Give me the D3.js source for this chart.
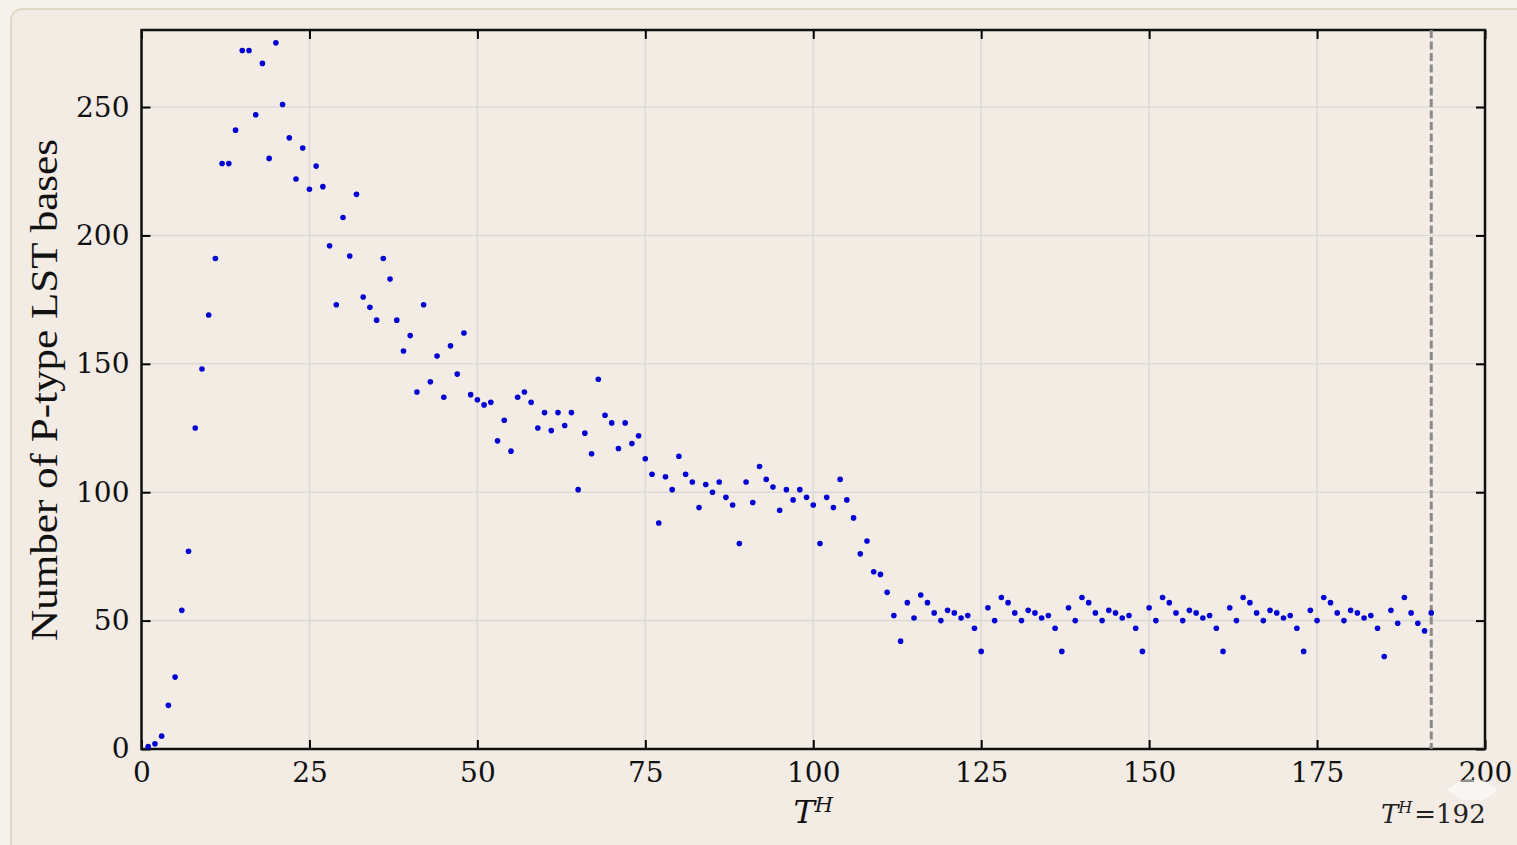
<!DOCTYPE html>
<html>
<head>
<meta charset="utf-8">
<script src="https://cdn.jsdelivr.net/npm/d3@7"></script>
<style>
	body { margin: 0; background: #f5f1eb; }
	svg { display: block; }
</style>
</head>
<body>
<div id="chart"></div>
<script>
// P-type LST bases per T^H (T^H = 1 .. 192)
var thStart = 1;
var baseCounts = [
	1, 2, 5, 17, 28, 54, 77, 125, 148, 169,
	191, 228, 228, 241, 272, 272, 247, 267, 230, 275,
	251, 238, 222, 234, 218, 227, 219, 196, 173, 207,
	192, 216, 176, 172, 167, 191, 183, 167, 155, 161,
	139, 173, 143, 153, 137, 157, 146, 162, 138, 136,
	134, 135, 120, 128, 116, 137, 139, 135, 125, 131,
	124, 131, 126, 131, 101, 123, 115, 144, 130, 127,
	117, 127, 119, 122, 113, 107, 88, 106, 101, 114,
	107, 104, 94, 103, 100, 104, 98, 95, 80, 104,
	96, 110, 105, 102, 93, 101, 97, 101, 98, 95,
	80, 98, 94, 105, 97, 90, 76, 81, 69, 68,
	61, 52, 42, 57, 51, 60, 57, 53, 50, 54,
	53, 51, 52, 47, 38, 55, 50, 59, 57, 53,
	50, 54, 53, 51, 52, 47, 38, 55, 50, 59,
	57, 53, 50, 54, 53, 51, 52, 47, 38, 55,
	50, 59, 57, 53, 50, 54, 53, 51, 52, 47,
	38, 55, 50, 59, 57, 53, 50, 54, 53, 51,
	52, 47, 38, 54, 50, 59, 57, 53, 50, 54,
	53, 51, 52, 47, 36, 54, 49, 59, 53, 49,
	46, 53
];
var xTicks = [0, 25, 50, 75, 100, 125, 150, 175, 200];
var yTicks = [0, 50, 100, 150, 200, 250];
var markerT = 192;

var width = 1517, height = 845;
var plot = {left: 141.5, right: 1485, top: 30, bottom: 749};

var x = d3.scaleLinear().domain([0, 200]).range([plot.left, plot.right]);
var y = d3.scaleLinear().domain([0, 280]).range([plot.bottom, plot.top]);

var svg = d3.select("#chart").append("svg")
	.attr("width", width)
	.attr("height", height);

// card behind the figure
svg.append("rect")
	.attr("x", 11).attr("y", 9)
	.attr("width", width + 20).attr("height", height + 20)
	.attr("rx", 11)
	.attr("fill", "#f2ece5")
	.attr("stroke", "#e2d9c5")
	.attr("stroke-width", 2);

// grid
var grid = svg.append("g").attr("class", "grid");
grid.selectAll("line.gx")
	.data(xTicks.slice(1, -1))
	.enter().append("line")
		.attr("x1", d => x(d)).attr("x2", d => x(d))
		.attr("y1", plot.top).attr("y2", plot.bottom)
		.attr("stroke", "#dcdad5").attr("stroke-width", 1.6);
grid.selectAll("line.gy")
	.data(yTicks.slice(1))
	.enter().append("line")
		.attr("x1", plot.left).attr("x2", plot.right)
		.attr("y1", d => y(d)).attr("y2", d => y(d))
		.attr("stroke", "#dcdad5").attr("stroke-width", 1.6);

// axes, ticks pointing inwards on all four sides
function styleAxis(g){
	g.select(".domain").remove();
	g.selectAll(".tick line").attr("stroke", "#000").attr("stroke-width", 2);
	g.selectAll(".tick text")
		.attr("fill", "#111")
		.style("font-family", "'DejaVu Serif', serif")
		.style("font-size", "28px");
}
svg.append("g")
	.attr("transform", "translate(0," + plot.bottom + ")")
	.call(d3.axisBottom(x).tickValues(xTicks).tickFormat(d3.format("d")).tickSize(-9).tickPadding(13))
	.call(styleAxis);
svg.append("g")
	.attr("transform", "translate(0," + plot.top + ")")
	.call(d3.axisTop(x).tickValues(xTicks).tickFormat("").tickSize(-9))
	.call(styleAxis);
svg.append("g")
	.attr("transform", "translate(" + plot.left + ",0)")
	.call(d3.axisLeft(y).tickValues(yTicks).tickFormat(d3.format("d")).tickSize(-9).tickPadding(12))
	.call(styleAxis);
svg.append("g")
	.attr("transform", "translate(" + plot.right + ",0)")
	.call(d3.axisRight(y).tickValues(yTicks).tickFormat("").tickSize(-9))
	.call(styleAxis);

// frame
svg.append("rect")
	.attr("x", plot.left).attr("y", plot.top)
	.attr("width", plot.right - plot.left)
	.attr("height", plot.bottom - plot.top)
	.attr("fill", "none")
	.attr("stroke", "#111")
	.attr("stroke-width", 2.5);

// T^H = 192 marker
svg.append("line")
	.attr("x1", x(markerT)).attr("x2", x(markerT))
	.attr("y1", plot.top).attr("y2", plot.bottom)
	.attr("stroke", "#8a8a8a")
	.attr("stroke-width", 3)
	.attr("stroke-dasharray", "8,3.5");

// points
svg.append("g").selectAll("circle")
	.data(baseCounts)
	.enter().append("circle")
		.attr("cx", (d, i) => x(thStart + i))
		.attr("cy", d => y(d))
		.attr("r", 2.8)
		.attr("fill", "#0000d4");

// axis labels
svg.append("text")
	.attr("transform", "translate(57,390) rotate(-90)")
	.attr("text-anchor", "middle")
	.attr("textLength", 502)
	.attr("lengthAdjust", "spacingAndGlyphs")
	.style("font-family", "'Liberation Serif', serif")
	.style("font-size", "38px")
	.attr("fill", "#111")
	.text("Number of P-type LST bases");

var xl = svg.append("text")
	.attr("x", x(100)).attr("y", 823)
	.attr("text-anchor", "middle")
	.style("font-family", "'DejaVu Serif', serif")
	.style("font-style", "italic")
	.style("font-size", "32px")
	.attr("fill", "#111");
xl.append("tspan").text("T");
xl.append("tspan").attr("dy", -11).style("font-size", "21px").text("H");

// faint watermark diamond under the annotation
svg.append("polygon")
	.attr("points", "1447,790 1462,780 1484,780 1498,790 1484,800 1462,800")
	.attr("fill", "#ffffff")
	.attr("opacity", 0.55);

var ann = svg.append("text")
	.attr("x", 1381).attr("y", 823)
	.style("font-family", "'DejaVu Serif', serif")
	.style("font-size", "26px")
	.attr("fill", "#222");
ann.append("tspan").style("font-style", "italic").text("T");
ann.append("tspan").attr("dy", -10).style("font-size", "16px").style("font-style", "italic").text("H");
ann.append("tspan").attr("dy", 10).attr("dx", 2).text("=192");
</script>
</body>
</html>
